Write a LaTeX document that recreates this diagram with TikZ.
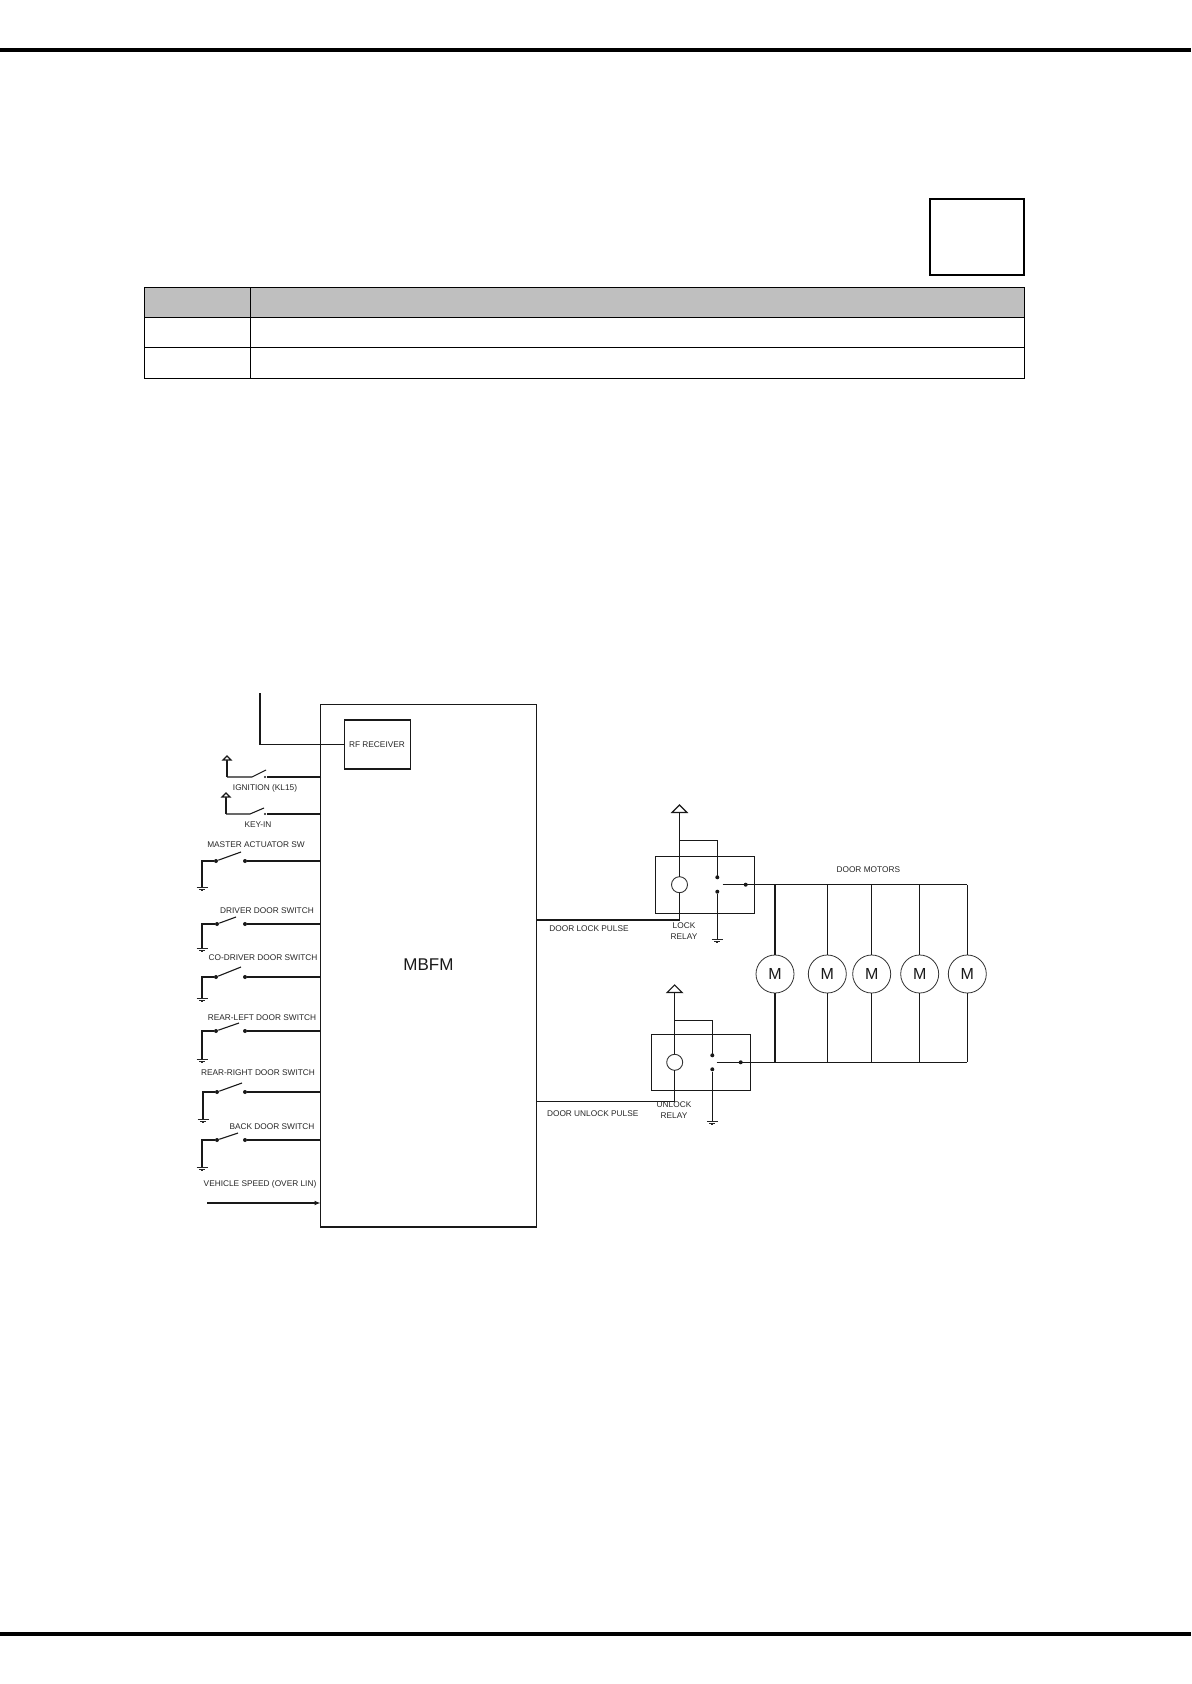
\documentclass[tikz,border=0pt]{standalone}
\usepackage{fontspec}
\setmainfont{Liberation Sans}
\usetikzlibrary{positioning}
\usetikzlibrary{arrows.meta}

\newcommand{\drawground}[2]{%
  \draw[line width=0.5pt,black!85] (#1-5.5,#2) -- (#1+5.5,#2) (#1-3,#2+2) -- (#1+3,#2+2);
  \fill[black!85] (#1-1,#2+3.2) rectangle (#1+1,#2+4);
}
\newcommand{\drawsupply}[4]{%
  \draw[wire] (#1,#3) -- (#1,#2+#4);
  \draw[wire,fill=white] (#1-#4,#2+#4) -- (#1,#2) -- (#1+#4,#2+#4) -- cycle;
}

\begin{document}
\begin{tikzpicture}[x=0.5pt,y=-0.5pt,
            wire/.style = {draw,line width=0.55pt,black!90},
            heavy/.style = {draw,line width=0.85pt,black,outer sep=0pt},
            frame/.style = {draw,line width=0.6pt,black!90,outer sep=0pt},
            sig/.style = {font=\fontsize{4.15}{4.5}\selectfont,text=black!85,inner sep=0pt,align=center},
            motor/.style = {circle,draw,line width=0.4pt,black!80,fill=white,minimum size=19pt,inner sep=0pt,
                text=black!90,font=\fontsize{8}{9}\selectfont,outer sep=0pt},
            coil/.style = {circle,draw,line width=0.45pt,black!80,fill=white,minimum size=8pt,inner sep=0pt,outer sep=0pt},
            contact/.style = {circle,fill=black!90,inner sep=0pt,minimum size=2pt}]
            \useasboundingbox (0,0) rectangle (1191,1684);
            % page rules and empty table
            \draw[line width=2pt] (0,49.7) coordinate (topl) -- (1191,49.7) coordinate (topr);
            \draw[line width=2pt] (0,1634) coordinate (botl) -- (1191,1634) coordinate (botr);
            \node[heavy,minimum width=47pt,minimum height=38pt,inner sep=0pt,anchor=north west] (revbox) at (930,199) {};
            \fill[black!25] (144.5,287.5) rectangle (1024.5,317.5);
            \draw[line width=0.65pt] (144.5,287.5) rectangle (1024.5,378.3);
            \draw[line width=0.65pt] (144.5,317.5) -- (1024.5,317.5) (144.5,347.5) -- (1024.5,347.5);
            \draw[line width=0.55pt] (250.5,287.5) -- (250.5,378.3);

            % control unit
            \node[frame,minimum width=108pt,minimum height=261.25pt,inner sep=0pt,anchor=north west] (mbfm) at (320.5,704.5) {};
            \node[font=\fontsize{8.5}{10}\selectfont,text=black!90] (mbfmtext) at (428.5,964.5) {MBFM};
            \node[frame,minimum width=33pt,minimum height=24.5pt,inner sep=0pt,anchor=north west] (rf) at (344.5,720) {};
            \node[sig] (rftext) at (377,744.5) {RF RECEIVER};
            \coordinate (antenna) at (260,693);
            \draw[wire] (antenna) |- (rf.west);

            % supply switches
            \foreach \name/\xa/\ya/\xb/\yb/\tx/\ty/\lab in {ign/227/777/266/770/265/788.5/IGNITION (KL15),
                key/226/814/264/808/258/824.5/KEY-IN} {
              \coordinate (\name in) at (321,\ya);
              \node[contact,minimum size=1.2pt] (\name c) at (265,\ya) {};
              \draw[wire] (\name in) -- (\name c);
              \draw[wire] (\xa,\ya) -- (\xb-14,\ya) -- (\xb,\yb);
              \drawsupply{\xa}{\ya-21}{\ya}{4}
              \node[sig] (\name t) at (\tx,\ty) {\lab};
            }

            % ground switches
            \foreach \name/\xg/\xl/\y/\xb/\yb/\yg/\tx/\ty/\lab in {
                mas/202/216/861/241/852/887/256/844.5/MASTER ACTUATOR SW,
                drv/202/217/924/236/917/948/267/910.5/DRIVER DOOR SWITCH,
                cod/202/216/977/241/967/998/263/957.5/CO-DRIVER DOOR SWITCH,
                rel/202/216/1031/239/1023/1059/262/1017.5/REAR-LEFT DOOR SWITCH,
                rer/203/217/1092/242/1083/1119/258/1072.5/REAR-RIGHT DOOR SWITCH,
                bac/202/217/1140/238/1133/1167/272/1127/BACK DOOR SWITCH} {
              \node[contact] (\name a) at (\xl,\y) {};
              \node[contact] (\name b) at (245,\y) {};
              \coordinate (\name in) at (321,\y);
              \draw[wire] (\name b) -- (\name in);
              \draw[wire] (\name a) -- (\xb,\yb);
              \draw[wire] (\name a) -- (\xg,\y) -- (\xg,\yg);
              \drawground{\xg}{\yg}
              \node[sig] (\name t) at (\tx,\ty) {\lab};
            }
            \node[sig] (spdt) at (260,1184) {VEHICLE SPEED (OVER LIN)};
            \coordinate (spd) at (207,1203);
            \draw[wire,-{Latex[length=3pt,width=2.4pt]}] (spd) -- (spd -| mbfm.west);

            % relays
            \node[frame,minimum width=49.5pt,minimum height=28.3pt,inner sep=0pt,anchor=north west] (lock) at (655.7,856.7) {};
            \node[coil] (lockc) at (679.5,884.7) {};
            \drawsupply{679.5}{805}{876.7}{7.5}
            \draw[wire] (679.5,840.7) -| (717.3,877.3);
            \node[contact] (lockn) at (717.3,877.3) {};
            \node[contact] (lockm) at (717.3,891.7) {};
            \draw[wire] (lockm) -- (717.3,939);
            \drawground{717.3}{939}
            \draw[wire] (lockc) -- (679.5,920) -- (536.5,920);
            \node[contact] (lockd) at (745.7,884.7) {};
            \node[sig] (locklab) at (684,931) {LOCK\\[1pt]RELAY};
            \node[sig] (lockpulse) at (589,929) {DOOR LOCK PULSE};

            \node[frame,minimum width=49.5pt,minimum height=27.8pt,inner sep=0pt,anchor=north west] (unlock) at (651.3,1034.7) {};
            \node[coil] (unlockc) at (674.7,1062.3) {};
            \drawsupply{674.7}{985}{1054.3}{7.5}
            \draw[wire] (674.7,1020.7) -| (712.3,1055.3);
            \node[contact] (unlockn) at (712.3,1055.3) {};
            \node[contact] (unlockm) at (712.3,1069.3) {};
            \draw[wire] (unlockm) -- (712.3,1121);
            \drawground{712.3}{1121}
            \draw[wire] (unlockc) -- (674.7,1101.7) -- (536.5,1101.7);
            \node[contact] (unlockd) at (740.7,1062.3) {};
            \node[sig] (unlocklab) at (674,1110) {UNLOCK\\[1pt]RELAY};
            \node[sig] (unlockpulse) at (592.7,1114) {DOOR UNLOCK PULSE};

            % motors
            \draw[wire] (722.7,884.7) -- (967.3,884.7) coordinate (topbus);
            \draw[wire] (716.7,1062.3) -- (967.3,1062.3) coordinate (botbus);
            \foreach \i/\x in {1/775,2/827.3,3/871.7,4/919.7,5/967.3} {
              \node[motor] (m\i) at (\x,974) {M};
              \draw[wire] (\x,884.7) -- (m\i);
              \draw[wire] (m\i) -- (\x,1062.3);
            }
            \node[sig] (motorlab) at (868.3,870) {DOOR MOTORS};
        \end{tikzpicture}
\end{document}
